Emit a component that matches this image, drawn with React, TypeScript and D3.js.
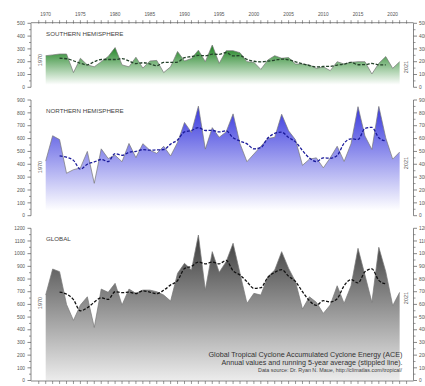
import React from "react";
import * as d3 from "d3";

const years: number[] = d3.range(1970, 2022);

const shValues: number[] = [
  247, 253, 260, 260, 115, 227, 175, 160, 200, 240,
  310, 175, 160, 235, 150, 205, 210, 115, 160, 280,
  205, 225, 290, 200, 330, 187, 286, 286, 270, 200,
  195, 140, 213, 247, 227, 232, 182, 182, 175, 148,
  160, 130, 200, 182, 195, 200, 200, 104, 187, 240,
  148, 200,
];

const nhValues: number[] = [
  425, 622, 592, 330, 358, 372, 500, 252, 520, 445,
  470, 420, 562, 452, 560, 510, 485, 540, 465, 570,
  725, 648, 852, 518, 685, 610, 652, 792, 560, 420,
  480, 540, 600, 610, 789, 660, 590, 392, 440, 450,
  372, 450, 540, 422, 560, 848, 620, 515, 850, 605,
  440, 495,
];

const globalValues: number[] = [
  674, 879, 858, 600, 474, 595, 660, 418, 721, 695,
  766, 595, 721, 687, 713, 713, 700, 674, 626, 845,
  924, 871, 1147, 713, 1016, 853, 937, 1082, 845, 608,
  687, 674, 818, 871, 1016, 884, 779, 563, 660, 616,
  529, 595, 747, 608, 747, 1042, 832, 616, 1050, 858,
  590, 695,
];

const yearLabels: number[] = d3.range(1970, 2021, 5);

const titleLines: string[] = [
  "Global Tropical Cyclone Accumulated Cyclone Energy (ACE)",
  "Annual values and running 5-year average (stippled line).",
];
const sourceLine = "Data source:  Dr. Ryan N. Maue, http://climatlas.com/tropical/";

type Panel = {
  id: string;
  title: string;
  values: number[];
  max: number;
  y0: number;
  yTop: number;
  top: string;
  bottom: string;
  gradTop: number;
  gradBottom: number;
  meanColor: string;
  label1970Y: number;
  label2021Y: number;
};

const panels: Panel[] = [
  {
    id: "sh",
    title: "SOUTHERN HEMISPHERE",
    values: shValues,
    max: 500,
    y0: 87.3,
    yTop: 23.3,
    top: "#0e7a12",
    bottom: "#ffffff",
    gradTop: 340,
    gradBottom: 20,
    meanColor: "#24422a",
    label1970Y: 60,
    label2021Y: 67,
  },
  {
    id: "nh",
    title: "NORTHERN HEMISPHERE",
    values: nhValues,
    max: 900,
    y0: 215.7,
    yTop: 100,
    top: "#3030dc",
    bottom: "#ffffff",
    gradTop: 880,
    gradBottom: 40,
    meanColor: "#1a1a9a",
    label1970Y: 167,
    label2021Y: 163,
  },
  {
    id: "gl",
    title: "GLOBAL",
    values: globalValues,
    max: 1200,
    y0: 380.5,
    yTop: 228.3,
    top: "#3a3a3a",
    bottom: "#ececec",
    gradTop: 1150,
    gradBottom: 0,
    meanColor: "#111111",
    label1970Y: 303,
    label2021Y: 298,
  },
];

const x = d3.scaleLinear().domain([1970, 2020]).range([45.7, 392.7]);
const AXIS_L = 31;
const AXIS_R = 413.5;
const AXIS_TOP = 22.7;
const AXIS_BOT = 381;

function runningMean(vals: number[]): [number, number][] {
  const out: [number, number][] = [];
  for (let i = 2; i < vals.length - 2; i++) {
    out.push([years[i], d3.mean(vals.slice(i - 2, i + 3)) as number]);
  }
  return out;
}

function PanelView({ p }: { p: Panel }) {
  const y = d3.scaleLinear().domain([0, p.max]).range([p.y0, p.yTop]);
  const pts: [number, number][] = years.map((yr, i) => [yr, p.values[i]]);
  const area = d3
    .area<[number, number]>()
    .x((d) => x(d[0]))
    .y0(y(0))
    .y1((d) => y(d[1]));
  const line = d3
    .line<[number, number]>()
    .x((d) => x(d[0]))
    .y((d) => y(d[1]));
  const meanLine = d3
    .line<[number, number]>()
    .x((d) => x(d[0]))
    .y((d) => y(d[1]))
    .curve(d3.curveMonotoneX);
  const major = d3.range(0, p.max + 1, 100);
  const minor = d3.range(50, p.max, 100);
  return (
    <g>
      <defs>
        <linearGradient
          id={`g-${p.id}`}
          gradientUnits="userSpaceOnUse"
          x1={0}
          x2={0}
          y1={y(p.gradTop)}
          y2={y(p.gradBottom)}
        >
          <stop offset="0" stopColor={p.top} />
          <stop offset="1" stopColor={p.bottom} />
        </linearGradient>
      </defs>
      <path d={area(pts) as string} fill={`url(#g-${p.id})`} />
      <path d={line(pts) as string} fill="none" stroke="#777" strokeWidth={0.7} />
      <path
        d={meanLine(runningMean(p.values)) as string}
        fill="none"
        stroke={p.meanColor}
        strokeWidth={1.3}
        strokeDasharray="3,1.6"
      />
      <text x={46} y={p.yTop + 12.8} fontSize={6.2} fill="#444" fontFamily="Liberation Sans, Arial, sans-serif">
        {p.title}
      </text>
      <text
        transform={`translate(42,${p.label1970Y}) rotate(-90)`}
        textAnchor="middle"
        fontSize={5.5}
        fill="#555"
        fontFamily="Liberation Sans, Arial, sans-serif"
      >
        1970
      </text>
      <text
        transform={`translate(408,${p.label2021Y}) rotate(-90)`}
        textAnchor="middle"
        fontSize={5.5}
        fill="#555"
        fontFamily="Liberation Sans, Arial, sans-serif"
      >
        2021
      </text>
      {/* left axis */}
      <line x1={AXIS_L} x2={AXIS_L} y1={y(p.max)} y2={y(0)} stroke="#555" strokeWidth={0.7} />
      {major.map((v) => (
        <g key={`lm${v}`}>
          <line x1={AXIS_L - 3.5} x2={AXIS_L} y1={y(v)} y2={y(v)} stroke="#555" strokeWidth={0.7} />
          <text
            x={AXIS_L - 6}
            y={y(v) + 1.7}
            textAnchor="end"
            fontSize={4.8}
            fill="#555"
            fontFamily="Liberation Sans, Arial, sans-serif"
          >
            {v}
          </text>
        </g>
      ))}
      {minor.map((v) => (
        <line key={`ln${v}`} x1={AXIS_L - 2} x2={AXIS_L} y1={y(v)} y2={y(v)} stroke="#555" strokeWidth={0.6} />
      ))}
      {/* right axis */}
      <line x1={AXIS_R} x2={AXIS_R} y1={y(p.max)} y2={y(0)} stroke="#555" strokeWidth={0.7} />
      {major.map((v) => (
        <g key={`rm${v}`}>
          <line x1={AXIS_R} x2={AXIS_R + 3.5} y1={y(v)} y2={y(v)} stroke="#555" strokeWidth={0.7} />
          <text
            x={AXIS_R + 5.5}
            y={y(v) + 1.7}
            textAnchor="start"
            fontSize={4.8}
            fill="#555"
            fontFamily="Liberation Sans, Arial, sans-serif"
          >
            {v}
          </text>
        </g>
      ))}
      {minor.map((v) => (
        <line key={`rn${v}`} x1={AXIS_R} x2={AXIS_R + 2} y1={y(v)} y2={y(v)} stroke="#555" strokeWidth={0.6} />
      ))}
    </g>
  );
}

export default function App() {
  const tickYears = d3.range(1966, 2026);
  return (
    <svg
      width={425}
      height={386}
      viewBox="0 0 425 386"
      style={{ position: "absolute", left: 0, top: 0, background: "#fff" }}
    >
      <rect x={0} y={0} width={425} height={386} fill="#fff" />
      {panels.map((p) => (
        <PanelView key={p.id} p={p} />
      ))}
      {/* top axis */}
      <line x1={AXIS_L} x2={AXIS_R} y1={AXIS_TOP} y2={AXIS_TOP} stroke="#555" strokeWidth={0.7} />
      {tickYears
        .filter((t) => x(t) > AXIS_L + 1 && x(t) < AXIS_R - 1)
        .map((t) => (
          <line
            key={`tt${t}`}
            x1={x(t)}
            x2={x(t)}
            y1={AXIS_TOP - 2.5}
            y2={AXIS_TOP + 1}
            stroke="#555"
            strokeWidth={0.6}
          />
        ))}
      {yearLabels.map((t) => (
        <text
          key={`yl${t}`}
          x={x(t)}
          y={15.5}
          textAnchor="middle"
          fontSize={4.8}
          fill="#555"
          fontFamily="Liberation Sans, Arial, sans-serif"
        >
          {t}
        </text>
      ))}
      {/* bottom axis */}
      <line x1={AXIS_L} x2={AXIS_R} y1={AXIS_BOT} y2={AXIS_BOT} stroke="#555" strokeWidth={0.7} />
      {tickYears
        .filter((t) => x(t) > AXIS_L + 1 && x(t) < AXIS_R - 1)
        .map((t) => (
          <line
            key={`bt${t}`}
            x1={x(t)}
            x2={x(t)}
            y1={AXIS_BOT}
            y2={AXIS_BOT + 3}
            stroke="#555"
            strokeWidth={0.6}
          />
        ))}
      {/* caption */}
      <text
        x={402.5}
        y={356.5}
        textAnchor="end"
        fontSize={7}
        fill="#333"
        textLength={194}
        lengthAdjust="spacingAndGlyphs"
        fontFamily="Liberation Sans, Arial, sans-serif"
      >
        {titleLines[0]}
      </text>
      <text
        x={402.5}
        y={364.5}
        textAnchor="end"
        fontSize={7}
        fill="#333"
        textLength={181}
        lengthAdjust="spacingAndGlyphs"
        fontFamily="Liberation Sans, Arial, sans-serif"
      >
        {titleLines[1]}
      </text>
      <text
        x={402}
        y={371.5}
        textAnchor="end"
        fontSize={4.6}
        fill="#444"
        textLength={144}
        lengthAdjust="spacingAndGlyphs"
        fontFamily="Liberation Sans, Arial, sans-serif"
      >
        {sourceLine}
      </text>
    </svg>
  );
}
